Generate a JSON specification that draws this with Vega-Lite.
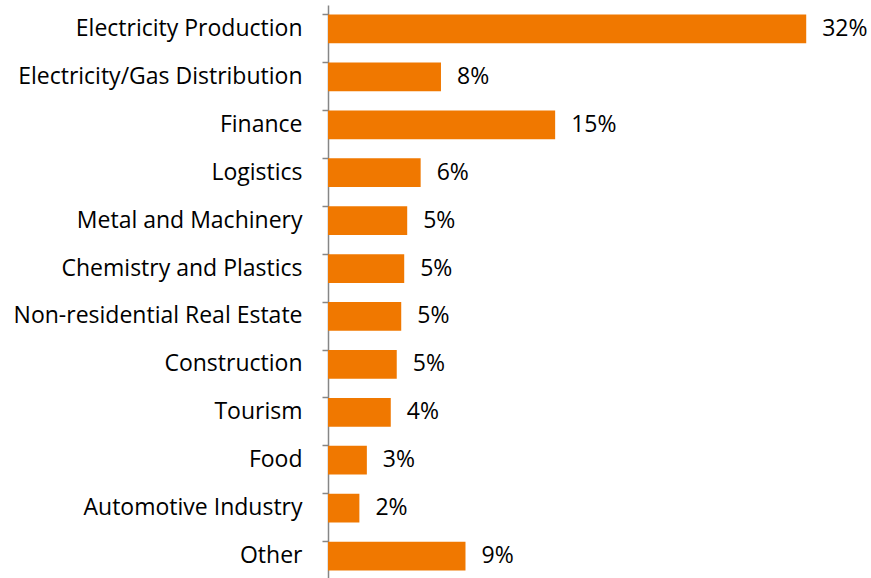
{
  "$schema": "https://vega.github.io/schema/vega-lite/v6.json",
  "width": 538,
  "height": 575,
  "autosize": {"type": "none"},
  "padding": {"left": 328, "top": 5, "right": 5, "bottom": 0},
  "background": "white",
  "config": {"view": {"stroke": null}, "font": "Open Sans"},
  "data": {
    "values": [
      {"sector": "Electricity Production", "share": 0.32},
      {"sector": "Electricity/Gas Distribution", "share": 0.0756},
      {"sector": "Finance", "share": 0.152},
      {"sector": "Logistics", "share": 0.062},
      {"sector": "Metal and Machinery", "share": 0.053},
      {"sector": "Chemistry and Plastics", "share": 0.051},
      {"sector": "Non-residential Real Estate", "share": 0.049},
      {"sector": "Construction", "share": 0.046},
      {"sector": "Tourism\u00a0", "share": 0.042},
      {"sector": "Food", "share": 0.026},
      {"sector": "Automotive Industry", "share": 0.021},
      {"sector": "Other", "share": 0.092}
    ]
  },
  "encoding": {
    "y": {
      "field": "sector",
      "type": "nominal",
      "sort": null,
      "scale": {"paddingInner": 0.4, "paddingOuter": 0.2},
      "axis": {
        "title": null,
        "bandPosition": 0,
        "domainColor": "#868686",
        "domainWidth": 1.5,
        "tickColor": "#868686",
        "tickWidth": 1.5,
        "tickSize": 6,
        "labelPadding": 20,
        "labelFontSize": 23,
        "labelColor": "#000000",
        "labelFont": "Open Sans",
        "labelLimit": 400
      }
    },
    "x": {
      "field": "share",
      "type": "quantitative",
      "scale": {"domain": [0, 0.36]},
      "axis": null
    }
  },
  "layer": [
    {"mark": {"type": "bar", "color": "#F07800"}},
    {
      "mark": {"type": "text", "align": "left", "baseline": "middle", "dx": 16, "fontSize": 23, "font": "Open Sans", "color": "#000000"},
      "encoding": {"text": {"field": "share", "type": "quantitative", "format": ".0%"}}
    }
  ]
}
